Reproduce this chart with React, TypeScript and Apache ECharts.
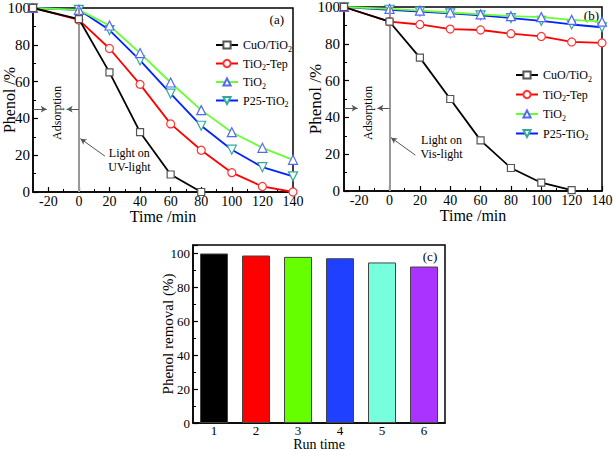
import React, { useEffect, useRef } from 'react';
import * as echarts from 'echarts';

const FONT = 'Liberation Serif';

// Panel (a): UV light
const timeA = [-30, 0, 20, 40, 60, 80, 100, 120, 140];
const cuoA = [100, 94, 65, 32.5, 9.5, 0];
const tepA = [100, 93.5, 78, 58.5, 37, 22.7, 10.5, 3, 0];
const tio2A = [100, 99, 90.5, 75.5, 59.5, 44.5, 32.5, 24, 17.5];
const p25A = [100, 99, 88, 71.5, 53.5, 36, 23, 13.5, 8.5];

// Panel (b): visible light
const timeB = [-30, 0, 20, 40, 60, 80, 100, 120, 140];
const cuoB = [100, 92, 72.5, 50, 27.5, 12.5, 4.5, 0.5];
const tepB = [100, 92, 90.5, 88, 87.5, 85.5, 84, 81, 80.5];
const tio2B = [100, 99, 98, 97, 96, 95, 94.5, 93, 92];
const p25B = [100, 98.5, 97.5, 96.5, 95.5, 94, 92.5, 90.5, 89];

// Time axis tick labels (major) and minor tick positions
const timeTicks = [-20, 0, 20, 40, 60, 80, 100, 120, 140];
const timeMinorTicks = [-10, 10, 30, 50, 70, 90, 110, 130];

// Panel (c): recycling runs
const runs = ['1', '2', '3', '4', '5', '6'];
const removal = [100, 98.8, 98, 97.2, 94.7, 92.3];
const barColors = ['#000000', '#ff0000', '#66ff00', '#2040ff', '#77ffdd', '#aa33ff'];

const seriesNames = ['CuO/TiO2', 'TiO2-Tep', 'TiO2', 'P25-TiO2'];
const legendRich: Record<string, string> = {
  'CuO/TiO2': '{n|CuO/TiO}{s|2}',
  'TiO2-Tep': '{n|TiO}{s|2}{n|-Tep}',
  'TiO2': '{n|TiO}{s|2}',
  'P25-TiO2': '{n|P25-TiO}{s|2}',
};

const styles = [
  { line: '#000000', mark: '#555555', symbol: 'rect', size: 7, rotate: 0 },
  { line: '#ff0000', mark: '#ff3333', symbol: 'circle', size: 8, rotate: 0 },
  { line: '#66ff33', mark: '#5566ff', symbol: 'triangle', size: 9, rotate: 0 },
  { line: '#0022ff', mark: '#33aa99', symbol: 'triangle', size: 9, rotate: 180 },
];

const pairs = (xs: number[], ys: number[]) => ys.map((y, i) => [xs[i], y]);

function lineSeries(idx: number, xs: number[], ys: number[], gi: number, extra: any = {}) {
  const s = styles[idx];
  return {
    type: 'line',
    name: seriesNames[idx],
    xAxisIndex: gi,
    yAxisIndex: gi,
    data: pairs(xs, ys),
    symbol: s.symbol,
    symbolSize: s.size,
    symbolRotate: s.rotate,
    showAllSymbol: true,
    lineStyle: { color: s.line, width: 1.8 },
    itemStyle: { color: '#ffffff', borderColor: s.mark, borderWidth: 1.2 },
    z: 3 + (3 - idx),
    ...extra,
  };
}

function annotLines() {
  return {
    silent: true,
    animation: false,
    symbol: 'none',
    label: { show: false },
    data: [
      [
        { coord: [0, 0], symbol: 'none', lineStyle: { color: '#999999', width: 2, type: 'solid' } },
        { coord: [0, 100], symbol: 'none' },
      ],
      [
        { coord: [-30, 45], symbol: 'none', lineStyle: { color: '#555555', width: 1, type: 'solid' } },
        { coord: [-21, 45], symbol: 'arrow', symbolSize: [5, 6] },
      ],
      [
        { coord: [0, 45], symbol: 'none', lineStyle: { color: '#555555', width: 1, type: 'solid' } },
        { coord: [-8, 45], symbol: 'arrow', symbolSize: [5, 6] },
      ],
      [
        { coord: [17, 19.5], symbol: 'none', lineStyle: { color: '#555555', width: 1, type: 'solid' } },
        { coord: [1, 29], symbol: 'arrow', symbolSize: [5, 6] },
      ],
    ],
  };
}

const axisLineStyle = { show: true, onZero: false, lineStyle: { color: '#000', width: 1.5 } };
const tickStyle = { show: true, inside: true, length: 5, lineStyle: { color: '#000', width: 1.2 } };
const minorStyle = { show: true, splitNumber: 2, length: 3, lineStyle: { color: '#000', width: 1 } };
const nameStyle = (size: number) => ({ fontFamily: FONT, fontSize: size, color: '#000', fontWeight: 'normal' });

function timeAxis(gi: number) {
  return {
    type: 'value',
    gridIndex: gi,
    position: 'bottom',
    min: -30,
    max: 140,
    interval: 10,
    axisLine: axisLineStyle,
    axisTick: { ...tickStyle, customValues: timeTicks },
    splitLine: { show: false },
    axisLabel: {
      color: '#000',
      fontFamily: FONT,
      fontSize: 14,
      margin: 2,
      customValues: timeTicks,
    },
    name: 'Time /min',
    nameLocation: 'middle',
    nameGap: 16.5,
    nameMoveOverlap: false,
    nameTextStyle: nameStyle(16),
  };
}

function timeMinorAxis(gi: number) {
  return {
    type: 'value',
    gridIndex: gi,
    position: 'bottom',
    offset: 0,
    min: -30,
    max: 140,
    interval: 10,
    axisLine: { show: false, onZero: false },
    axisTick: { show: true, inside: true, length: 3, lineStyle: { color: '#000', width: 1 }, customValues: timeMinorTicks },
    axisLabel: { show: false },
    splitLine: { show: false },
  };
}

function phenolAxis(gi: number, gap: number, size: number, margin: number) {
  return {
    type: 'value',
    gridIndex: gi,
    min: 0,
    max: 100,
    interval: 20,
    axisLine: axisLineStyle,
    axisTick: tickStyle,
    minorTick: minorStyle,
    splitLine: { show: false },
    axisLabel: { color: '#000', fontFamily: FONT, fontSize: 15, margin },
    name: 'Phenol /%',
    nameLocation: 'middle',
    nameGap: gap,
    nameMoveOverlap: false,
    nameTextStyle: nameStyle(size),
  };
}

function legend(left: number, top: number, gap: number) {
  return {
    data: seriesNames,
    orient: 'vertical',
    left,
    top,
    itemWidth: 22,
    itemHeight: 9,
    itemGap: gap,
    selectedMode: false,
    formatter: (name: string) => legendRich[name] || name,
    textStyle: {
      fontFamily: FONT,
      fontSize: 12,
      color: '#000',
      rich: {
        n: { fontFamily: FONT, fontSize: 12, color: '#000' },
        s: { fontFamily: FONT, fontSize: 8, color: '#000', verticalAlign: 'bottom', padding: [8, 0, 0, 0] },
      },
    },
  };
}

const gridA = { left: 33, top: 8, width: 260, height: 184 };
const gridB = { left: 344, top: 7, width: 258, height: 184 };
const gridC = { left: 193, top: 245, width: 252, height: 178 };

const option: any = {
  animation: false,
  backgroundColor: '#ffffff',
  grid: [gridA, gridB, gridC].map((g) => ({
    ...g,
    show: true,
    borderColor: '#000',
    borderWidth: 1.5,
    backgroundColor: 'transparent',
    containLabel: false,
    outerBoundsMode: 'none',
  })),
  legend: [legend(210, 34, 4.5), legend(510, 64, 5.5)],
  xAxis: [
    timeAxis(0),
    timeAxis(1),
    {
      type: 'category',
      gridIndex: 2,
      data: runs,
      axisLine: axisLineStyle,
      axisTick: { ...tickStyle, alignWithLabel: true },
      splitLine: { show: false },
      axisLabel: { color: '#000', fontFamily: FONT, fontSize: 13, margin: 1 },
      name: 'Run time',
      nameLocation: 'middle',
      nameGap: 14,
      nameMoveOverlap: false,
      nameTextStyle: nameStyle(14),
    },
    timeMinorAxis(0),
    timeMinorAxis(1),
  ],
  yAxis: [
    phenolAxis(0, 16, 16, 3),
    phenolAxis(1, 20, 17, 4),
    {
      type: 'value',
      gridIndex: 2,
      min: 0,
      max: 105,
      interval: 20,
      axisLine: axisLineStyle,
      axisTick: tickStyle,
      minorTick: minorStyle,
      splitLine: { show: false },
      axisLabel: { color: '#000', fontFamily: FONT, fontSize: 13, margin: 3, showMaxLabel: false, formatter: (v: number) => (v > 100 ? '' : String(v)) },
      name: 'Phenol removal (%)',
      nameLocation: 'middle',
      nameGap: 18,
      nameMoveOverlap: false,
      nameTextStyle: nameStyle(15),
    },
  ],
  series: [
    lineSeries(0, timeA, cuoA, 0, { markLine: annotLines() }),
    lineSeries(1, timeA, tepA, 0),
    lineSeries(2, timeA, tio2A, 0),
    lineSeries(3, timeA, p25A, 0),
    lineSeries(0, timeB, cuoB, 1, { markLine: annotLines() }),
    lineSeries(1, timeB, tepB, 1),
    lineSeries(2, timeB, tio2B, 1),
    lineSeries(3, timeB, p25B, 1),
    {
      type: 'bar',
      name: 'Phenol removal',
      xAxisIndex: 2,
      yAxisIndex: 2,
      barWidth: 28,
      data: removal.map((v, i) => ({ value: v, itemStyle: { color: barColors[i] } })),
      itemStyle: { borderColor: '#444444', borderWidth: 1 },
    },
  ],
};

export default function App() {
  const ref = useRef<HTMLDivElement>(null);
  useEffect(() => {
    const el = ref.current;
    if (!el) return;
    const chart = echarts.init(el, null, { renderer: 'svg' });
    chart.setOption(option);
    const px = (gi: number, x: number, y: number) =>
      chart.convertToPixel({ gridIndex: gi } as any, [x, y]) as unknown as number[];
    const txt = (p: number[], text: string, size: number, rotation = 0) => ({
      type: 'text',
      x: p[0],
      y: p[1],
      rotation,
      silent: true,
      style: {
        text,
        fontFamily: FONT,
        fontSize: size,
        lineHeight: 14,
        fill: '#000',
        align: 'center',
        verticalAlign: 'middle',
      },
    });
    const graphics = [
      txt(px(0, -14.4, 43), 'Adsorption', 12, Math.PI / 2),
      txt(px(0, 33, 17.4), 'Light on\nUV-light', 12),
      txt(px(0, 129.4, 93.5), '(a)', 13),
      txt(px(1, -14.5, 42.4), 'Adsorption', 12, Math.PI / 2),
      txt(px(1, 34.3, 24), 'Light on\nVis-light', 12),
      txt(px(1, 133, 95.6), '(b)', 13),
      txt([gridC.left + gridC.width - 15, gridC.top + 11], '(c)', 13),
    ];
    chart.setOption({ graphic: graphics });
    return () => chart.dispose();
  }, []);
  return (
    <div
      ref={ref}
      style={{ position: 'fixed', left: 0, top: 0, width: 614, height: 451, background: '#fff' }}
    />
  );
}
